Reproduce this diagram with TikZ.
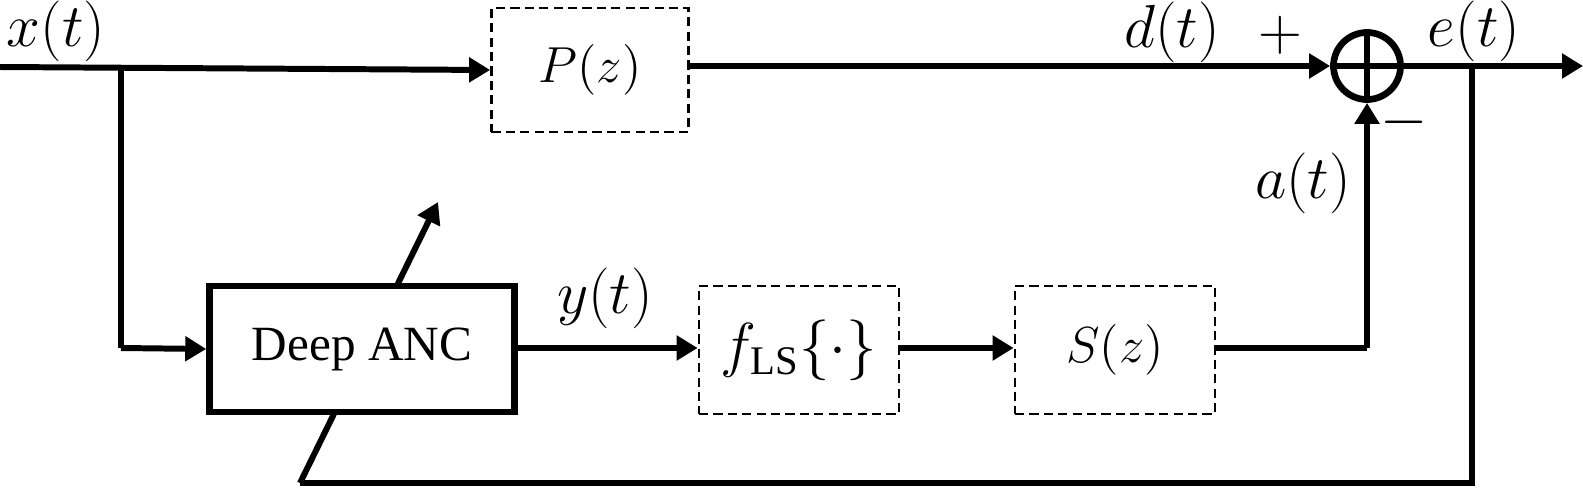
\documentclass[tikz,border=0pt]{standalone}
\usepackage{fontspec}
\setmainfont{Liberation Serif}
\usetikzlibrary{arrows.meta}
\begin{document}
\begin{tikzpicture}[x=0.01cm,y=-0.01cm,
  sig/.style={line width=1.7pt,-{Triangle[length=0.21cm,width=0.24cm]}},
  wire/.style={line width=1.7pt},
  dbox/.style={draw,dashed,line width=0.75pt,dash pattern=on 2.6pt off 1.5pt,minimum width=1.97cm,minimum height=1.24cm,inner sep=0pt,font=\fontsize{15.5}{17}\selectfont},
  sbox/.style={draw,line width=1.8pt,fill=white,minimum width=3.05cm,minimum height=1.26cm,inner sep=0pt,font=\fontsize{14}{16}\selectfont},
  lab/.style={inner sep=0pt,font=\fontsize{16}{18}\selectfont}]
\useasboundingbox (0,0) rectangle (1583,491);
% nodes
\node[dbox] (P) at (590,70) {$P(z)$};
\node[dbox,minimum width=2.0cm,minimum height=1.28cm,font=\fontsize{16.5}{18}\selectfont] (F) at (799,350) {$f_{\mathrm{LS}}\{\cdot\}$};
\node[dbox,minimum width=2.0cm,minimum height=1.28cm] (S) at (1115,350) {$S(z)$};
\coordinate (in) at (0,67);
\coordinate (bx) at (121,67);
\coordinate (bxd) at (121,348);
\coordinate (be) at (1472,66);
\coordinate (bed) at (1472,483);
\coordinate (bl) at (300,483);
\coordinate (dtip) at (438,202);
\coordinate (out) at (1583,66);
\coordinate (sa) at (1367,348);
\node[circle,draw,line width=1.9pt,minimum size=0.67cm,inner sep=0pt] (sum) at (1367,66) {};
% diagonal adaptation arrow (behind box)
\draw[sig] (bl) -- (dtip);
\node[sbox] (D) at (362,349) {Deep ANC};
% cross in summing junction
\draw[wire] (sum.north) -- (sum.south);
\draw[wire] (sum.west) -- (sum.east);
% connectors
\draw[sig] (in) -- (P.west);
\draw[wire] (bx) -- (bxd);
\draw[sig] (bxd) -- (D.west);
\draw[sig] (P.east |- 0,66) -- (sum.west);
\draw[sig] (sum.east) -- (out);
\draw[sig] (D.east |- 0,348) -- (F.west |- 0,348);
\draw[sig] (F.east |- 0,348) -- (S.west |- 0,348);
\draw[wire] (S.east |- 0,348) -- (sa);
\draw[sig] (sa) -- (sum.south);
\draw[wire] (be) -- (bed) -- (bl);
% labels
\node[lab] (lx) at (56,31) {$x(t)$};
\node[lab] (ld) at (1172,32) {$d(t)$};
\node[lab] (le) at (1474,31) {$e(t)$};
\node[lab] (lp) at (1280,35) {$+$};
\node[lab] (lm) at (1404,122) {$-$};
\node[lab] (la) at (1303,183) {$a(t)$};
\node[lab] (ly) at (605,298) {$y(t)$};
\end{tikzpicture}
\end{document}
